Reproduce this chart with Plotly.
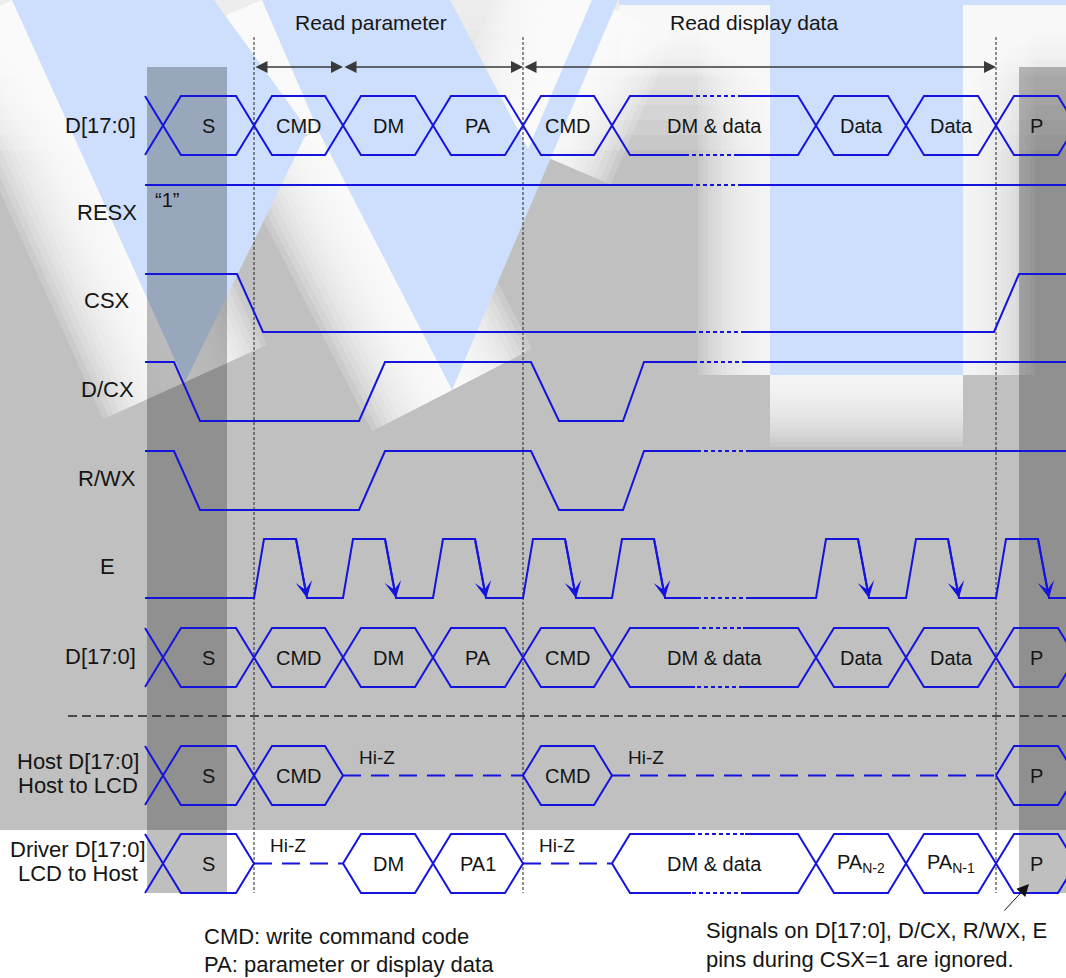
import plotly.graph_objects as go

# ---------------- data (pixel timeline of the diagram) ----------------
crossings = [163, 254, 343, 433, 523, 612, 816, 906, 996, 1076]   # bus transition points (last = past the page edge)
bus_labels = ["S", "CMD", "DM", "PA", "CMD", "DM & data", "Data", "Data", "P"]
host_states = ["S", "CMD", "Hi-Z", "Hi-Z", "CMD", "Hi-Z", "Hi-Z", "Hi-Z", "P"]
driver_states = ["S", "Hi-Z", "DM", "PA1", "Hi-Z", "DM & data", "PA<sub>N-2</sub>", "PA<sub>N-1</sub>", "P"]

signal_names = ["D[17:0]", "RESX", "CSX", "D/CX", "R/WX", "E", "D[17:0]"]
name_x = [100, 107, 107, 107, 107, 107, 100]
name_y = [125, 212, 300, 389, 478, 566, 656]

row_high = [96, 185, 274, 362, 451, 539, 628]
row_low = [155, 185, 332, 421, 510, 598, 687]
host_top, host_bot = 746, 805
drv_top, drv_bot = 834, 893

csx_x = [145, 237, 263, 994, 1019, 1066]
csx_lv = [1, 1, 0, 0, 1, 1]
dcx_x = [145, 174, 200, 359, 385, 531, 559, 623, 644, 1066]
dcx_lv = [1, 1, 0, 0, 1, 1, 0, 0, 1, 1]
rwx_x = [145, 174, 200, 359, 385, 531, 559, 623, 644, 1066]
rwx_lv = [1, 1, 0, 0, 1, 1, 0, 0, 1, 1]
e_rise = [254, 343, 433, 523, 612, 816, 906, 996]
e_edges = [10, 42, 53]          # rise end, fall start, fall end (offsets from rise start)

gaps = {"D1": (689, 738), "RESX": (689, 738), "CSX": (692, 745), "DCX": (693, 743),
        "RWX": (697, 750), "E": (697, 750), "D2": (695, 743), "DRV": (691, 745)}

phase_names = ["Read parameter", "Read display data"]
phase_x = [371, 754]
span_pairs = [(1, 2), (2, 4), (4, 8)]      # crossing indices of the double arrows
marker_idx = [1, 4, 8]                      # crossing indices of vertical dashed markers

notes_left = ["CMD: write command code", "PA: parameter or display data"]
notes_right = ["Signals on D[17:0], D/CX, R/WX, E", "pins during CSX=1 are ignored."]

# ---------------- style ----------------
BLUE = "#1414dc"
TXT = "#151515"
FONT = "Liberation Sans, Arial, sans-serif"
X0 = 145
HW = 18

solid = ([], [])
dotted = ([], [])
dashed = ([], [])
ann = []


def add(coll, pts):
    for x, y in pts:
        coll[0].append(x)
        coll[1].append(y)
    coll[0].append(None)
    coll[1].append(None)


def poly(pts, gap=None):
    run = [pts[0]]
    for (x0, y0), (x1, y1) in zip(pts[:-1], pts[1:]):
        if gap and y0 == y1 and min(x0, x1) < gap[0] and max(x0, x1) > gap[1]:
            lo, hi = (gap[0], gap[1]) if x1 > x0 else (gap[1], gap[0])
            run.append((lo, y0))
            add(solid, run)
            add(dotted, [(lo, y0), (hi, y0)])
            run = [(hi, y0), (x1, y1)]
        else:
            run.append((x1, y1))
    add(solid, run)


def text(x, y, s, size, xanchor="center", color=TXT):
    ann.append(dict(x=x, y=y, text=s, showarrow=False, xanchor=xanchor, yanchor="middle",
                    font=dict(family=FONT, size=size, color=color)))


def bus(yt, yb, states, gap):
    ym = (yt + yb) / 2
    add(solid, [(X0, yt), (crossings[0], ym), (X0, yb)])
    i, n = 0, len(states)
    while i < n:
        a = crossings[i]
        st = states[i]
        if st == "Hi-Z":
            j = i
            while j + 1 < n and states[j + 1] == "Hi-Z":
                j += 1
            b = crossings[j + 1]
            add(dashed, [(a, ym), (b, ym)])
            text(a + 14, ym - 18, "Hi-Z", 19, xanchor="left")
            i = j + 1
            continue
        b = crossings[i + 1]
        poly([(a, ym), (a + HW, yt), (b - HW, yt), (b, ym), (b - HW, yb), (a + HW, yb), (a, ym)], gap)
        text((a + b) / 2, ym, st, 20)
        i += 1


def wave(xs, lv, yh, yl, gap):
    poly([(x, yh if v else yl) for x, v in zip(xs, lv)], gap)


# rows
bus(row_high[0], row_low[0], bus_labels, gaps["D1"])
poly([(X0, row_high[1]), (1066, row_high[1])], gaps["RESX"])
wave(csx_x, csx_lv, row_high[2], row_low[2], gaps["CSX"])
wave(dcx_x, dcx_lv, row_high[3], row_low[3], gaps["DCX"])
wave(rwx_x, rwx_lv, row_high[4], row_low[4], gaps["RWX"])
e_pts = [(X0, row_low[5])]
for c in e_rise:
    e_pts += [(c, row_low[5]), (c + e_edges[0], row_high[5]), (c + e_edges[1], row_high[5]), (c + e_edges[2], row_low[5])]
    ann.append(dict(x=c + e_edges[2], y=row_low[5], ax=c + e_edges[1], ay=row_high[5], axref="x", ayref="y",
                    xref="x", yref="y", showarrow=True, arrowhead=3, arrowsize=1.4, arrowwidth=2,
                    arrowcolor=BLUE, standoff=0, text=""))
e_pts.append((1066, row_low[5]))
poly(e_pts, gaps["E"])
bus(row_high[6], row_low[6], bus_labels, gaps["D2"])
bus(host_top, host_bot, host_states, None)
bus(drv_top, drv_bot, driver_states, gaps["DRV"])

# labels
for s, x, y in zip(signal_names, name_x, name_y):
    text(x, y, s, 22)
text(78, 761, "Host D[17:0]", 22)
text(78, 785, "Host to LCD", 22)
text(78, 849, "Driver D[17:0]", 22)
text(78, 873, "LCD to Host", 22)
text(167, 200, "\u201c1\u201d", 20)
for s, x in zip(phase_names, phase_x):
    text(x, 22, s, 21)
for k, s in enumerate(notes_left):
    text(202, 936 + 28 * k, s, 22, xanchor="left")
for k, s in enumerate(notes_right):
    text(704, 930 + 29 * k, s, 22, xanchor="left")

# span arrows
for a, b in span_pairs:
    ann.append(dict(x=crossings[b], y=67, ax=crossings[a], ay=67, axref="x", ayref="y", xref="x", yref="y",
                    showarrow=True, arrowhead=2, startarrowhead=2, arrowside="end+start", arrowsize=1.6,
                    startarrowsize=1.6, arrowwidth=1.5, arrowcolor="#3a3a3a", standoff=0, startstandoff=0, text=""))
ann.append(dict(x=1029, y=884, ax=1003, ay=912, axref="x", ayref="y", xref="x", yref="y", showarrow=True,
                arrowhead=2, arrowsize=2.4, arrowwidth=1, arrowcolor="#111", standoff=0, text=""))

# ---------------- background (watermark) ----------------
def path(pts):
    return "M " + " L ".join(f"{x},{y}" for x, y in pts) + " Z"

wm_v1 = [(12, 0), (214, 0), (308, 130), (185, 382)]
wm_v2 = [(262, 0), (450, 0), (528, 149), (592, 0), (618, 0), (452, 390), (318, 130)]
wm_t = [(619, 0), (1066, 0), (1066, 5), (963, 5), (963, 375), (770, 375), (770, 5), (619, 5)]

# edges of the watermark that carry a soft white halo (lit side)
glow_w = [((185, 382), (12, 0)), ((318, 130), (262, 0)), ((452, 390), (318, 130)), ((528, 149), (592, 0))]
glow_t = [((770, 5), (770, 375)), ((770, 375), (963, 375)), ((963, 375), (963, 5)), ((963, 5), (1066, 5)),
          ((619, 5), (770, 5))]

shapes = [dict(type="rect", x0=0, x1=1066, y0=0, y1=830, fillcolor="#c0c0c0", line_width=0, layer="below")]
for hgt in range(150, 0, -15):
    shapes.append(dict(type="rect", x0=0, x1=1066, y0=0, y1=hgt, fillcolor="white", opacity=0.13,
                       line_width=0, layer="below"))
for w in range(180, 10, -12):
    for (x0, y0), (x1, y1) in glow_w:
        shapes.append(dict(type="path", path=f"M {x0},{y0} L {x1},{y1}", line=dict(color="white", width=w),
                           opacity=0.18, layer="below"))
    for (x0, y0), (x1, y1) in glow_t:
        shapes.append(dict(type="path", path=f"M {x0},{y0} L {x1},{y1}", line=dict(color="white", width=w * 0.8),
                           opacity=0.13, layer="below"))
for p in (wm_v1, wm_v2, wm_t):
    shapes.append(dict(type="path", path=path(p), fillcolor="#cddffd", line_width=0, layer="below"))
shapes.append(dict(type="rect", x0=147, x1=227, y0=67, y1=893, fillcolor="rgba(0,0,0,0.25)", line_width=0, layer="below"))
shapes.append(dict(type="rect", x0=1019, x1=1066, y0=67, y1=893, fillcolor="rgba(0,0,0,0.25)", line_width=0, layer="below"))
for k in marker_idx:
    shapes.append(dict(type="line", x0=crossings[k], x1=crossings[k], y0=37, y1=893,
                       line=dict(color="#222", width=1, dash="3px,2px"), layer="below"))
shapes.append(dict(type="line", x0=68, x1=1066, y0=716, y1=716, line=dict(color="#222", width=1.5, dash="9px,5px"),
                   layer="below"))

fig = go.Figure()
fig.add_trace(go.Scatter(x=solid[0], y=solid[1], mode="lines", line=dict(color=BLUE, width=2), hoverinfo="skip"))
fig.add_trace(go.Scatter(x=dotted[0], y=dotted[1], mode="lines", line=dict(color=BLUE, width=2, dash="4px,3px"),
                         hoverinfo="skip"))
fig.add_trace(go.Scatter(x=dashed[0], y=dashed[1], mode="lines", line=dict(color=BLUE, width=2, dash="18px,10px"),
                         hoverinfo="skip"))
fig.update_layout(width=1066, height=978, margin=dict(l=0, r=0, t=0, b=0), showlegend=False,
                  plot_bgcolor="white", paper_bgcolor="white", shapes=shapes, annotations=ann,
                  xaxis=dict(range=[0, 1066], visible=False, fixedrange=True),
                  yaxis=dict(range=[978, 0], visible=False, fixedrange=True))
fig.write_html("out.html", config={"displayModeBar": False},
               post_script="document.body.style.margin='0';document.body.style.overflow='hidden';")
